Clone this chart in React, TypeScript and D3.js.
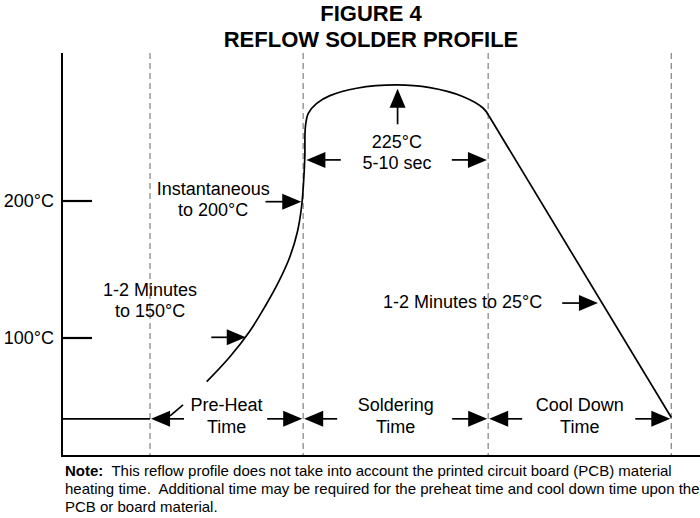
import React from 'react';
import * as d3 from 'd3';

const W = 700;
const H = 518;

// ---------- data ----------
const titleLines = ['FIGURE 4', 'REFLOW SOLDER PROFILE'];
const tempTicks = [200, 100];
const tickLabels = ['200°C', '100°C'];
const timeExtent = [0, 100];
const tempExtent = [13.9, 308];
const phaseBounds = [13.8, 37.8, 66.8, 95.5];
const phaseNames = [
  ['Pre-Heat', 'Time'],
  ['Soldering', 'Time'],
  ['Cool Down', 'Time'],
];
const ambientTime = [0, 13.8];
const ambientTemp = [41, 41];
const heatTime = [22.68, 26.32, 29.37, 31.8, 33.97, 35.72, 36.9, 37.55, 37.87, 38.06, 38.15, 38.6, 39.92, 42.0, 46.19, 52.46, 57.68, 62.9, 66.03, 66.93];
const heatTemp = [68.1, 86.35, 104.6, 122.8, 141.1, 159.3, 177.6, 195.8, 214.1, 232.3, 254.2, 264.0, 271.3, 276.9, 282.3, 284.7, 282.7, 276.1, 267.7, 262.0];
const coolTime = [66.93, 95.5];
const coolTemp = [262.0, 42];

// annotation arrows: tail -> tip (time, temp)
const arrowFromT = [52.6, 43.7, 61.1, 31.9, 23.4, 78.4];
const arrowFromC = [256, 230, 230, 199.5, 100.5, 125.5];
const arrowToT = [52.6, 38.3, 66.6, 37.5, 28.8, 84.0];
const arrowToC = [282, 230, 230, 199.5, 100.5, 125.5];

// annotation texts
const noteLabels = [
  { lines: ['Instantaneous', 'to 200°C'], t: 23.7, c: 204.4, anchor: 'middle' },
  { lines: ['1-2 Minutes', 'to 150°C'], t: 13.8, c: 130.7, anchor: 'middle' },
  { lines: ['225°C', '5-10 sec'], t: 52.5, c: 238.7, anchor: 'middle' },
  { lines: ['1-2 Minutes to 25°C'], t: 50.3, c: 121.9, anchor: 'start' },
];
const phaseLabelTemp = 46.7;
const phaseArrowTemp = 41;

const noteBold = 'Note:';
const noteLines = [
  '  This reflow profile does not take into account the printed circuit board (PCB) material',
  'heating time.  Additional time may be required for the preheat time and cool down time upon the',
  'PCB or board material.',
];

// ---------- scales ----------
const x = d3.scaleLinear().domain(timeExtent).range([62, 700]);
const y = d3.scaleLinear().domain([100, 200]).range([338, 201]);

const FONT = '"Liberation Sans", Arial, Helvetica, sans-serif';

function Arrow({ x1, y1, x2, y2 }: { x1: number; y1: number; x2: number; y2: number }) {
  const dx = x2 - x1;
  const dy = y2 - y1;
  const len = Math.hypot(dx, dy) || 1;
  const ux = dx / len;
  const uy = dy / len;
  const hl = 19;
  const hw = 8;
  const bx = x2 - ux * hl;
  const by = y2 - uy * hl;
  const pts = [
    [x2, y2],
    [bx - uy * hw, by + ux * hw],
    [bx + uy * hw, by - ux * hw],
  ];
  return (
    <g>
      <line x1={x1} y1={y1} x2={bx + ux * 2} y2={by + uy * 2} stroke="#000" strokeWidth={1.7} />
      <polygon points={pts.map((p) => p.join(',')).join(' ')} fill="#000" />
    </g>
  );
}

export default function App() {
  const heatPath =
    d3
      .line<number>()
      .x((_, i) => x(heatTime[i]))
      .y((_, i) => y(heatTemp[i]))
      .curve(d3.curveCatmullRom.alpha(0.5))(heatTime) || '';
  const coolPath =
    d3
      .line<number>()
      .x((_, i) => x(coolTime[i]))
      .y((_, i) => y(coolTemp[i]))(coolTime) || '';
  const ambientPath =
    d3
      .line<number>()
      .x((_, i) => x(ambientTime[i]))
      .y((_, i) => y(ambientTemp[i]))(ambientTime) || '';

  const yTop = y(tempExtent[1]);
  const yBot = y(tempExtent[0]);
  const x0 = x(timeExtent[0]);

  // bottom phase arrows
  const ay = y(phaseArrowTemp);
  const phaseArrows: { x1: number; x2: number }[] = [];
  for (let i = 0; i < phaseBounds.length - 1; i++) {
    const a = x(phaseBounds[i]);
    const b = x(phaseBounds[i + 1]);
    phaseArrows.push({ x1: a + 34, x2: a + 1 });
    phaseArrows.push({ x1: b - 36, x2: b - 1 });
  }

  return (
    <svg
      width={W}
      height={H}
      style={{ position: 'absolute', left: 0, top: 0, background: '#fff' }}
      fontFamily={FONT}
    >
      <rect width={W} height={H} fill="#fff" />
      {/* title */}
      {titleLines.map((t, i) => (
        <text key={t} x={371} y={21 + i * 25.5} textAnchor="middle" fontSize={22} fontWeight="bold" fill="#000">
          {t}
        </text>
      ))}

      {/* dashed phase boundaries */}
      {phaseBounds.map((b) => (
        <line
          key={b}
          x1={x(b)}
          x2={x(b)}
          y1={yTop}
          y2={yBot}
          stroke="#8a8a8a"
          strokeWidth={1.3}
          strokeDasharray="6 4"
        />
      ))}

      {/* axes */}
      <line x1={x0} x2={x0} y1={yTop} y2={yBot + 1} stroke="#000" strokeWidth={2} />
      <line x1={x0 - 1} x2={W} y1={yBot} y2={yBot} stroke="#000" strokeWidth={2} />
      {tempTicks.map((t, i) => (
        <g key={t}>
          <line x1={x0} x2={x0 + 30} y1={y(t)} y2={y(t)} stroke="#000" strokeWidth={2.2} />
          <text x={x0 - 8} y={y(t)} dy="0.36em" textAnchor="end" fontSize={18} fill="#000">
            {tickLabels[i]}
          </text>
        </g>
      ))}

      {/* profile */}
      <path d={ambientPath} fill="none" stroke="#000" strokeWidth={1.7} />
      <path d={heatPath} fill="none" stroke="#000" strokeWidth={1.7} strokeLinejoin="round" />
      <path d={coolPath} fill="none" stroke="#000" strokeWidth={1.7} />

      {/* annotation arrows */}
      {arrowFromT.map((t, i) => (
        <Arrow key={i} x1={x(t)} y1={y(arrowFromC[i])} x2={x(arrowToT[i])} y2={y(arrowToC[i])} />
      ))}

      {/* phase arrows */}
      {phaseArrows.map((a, i) => (
        <Arrow key={'p' + i} x1={a.x1} y1={ay} x2={a.x2} y2={ay} />
      ))}
      {/* pre-heat slanted leader */}
      <line x1={x(phaseBounds[0]) + 20} y1={ay - 3} x2={x(phaseBounds[0]) + 33} y2={ay - 14} stroke="#000" strokeWidth={1.7} />

      {/* annotation text */}
      {noteLabels.map((n, i) => (
        <text key={i} x={x(n.t)} y={y(n.c)} textAnchor={n.anchor} fontSize={18} fill="#000">
          {n.lines.map((l, j) => (
            <tspan key={j} x={x(n.t)} dy={j === 0 ? 0 : 21.5}>
              {l}
            </tspan>
          ))}
        </text>
      ))}

      {/* phase labels */}
      {phaseNames.map((p, i) => {
        const cx = (x(phaseBounds[i]) + x(phaseBounds[i + 1])) / 2;
        return (
          <text key={i} x={cx} y={y(phaseLabelTemp)} textAnchor="middle" fontSize={18} fill="#000">
            {p.map((l, j) => (
              <tspan key={j} x={cx} dy={j === 0 ? 0 : 22}>
                {l}
              </tspan>
            ))}
          </text>
        );
      })}

      {/* footnote */}
      <text x={65} y={476} fontSize={15} fill="#000" style={{ whiteSpace: 'pre' }}>
        <tspan fontWeight="bold">{noteBold}</tspan>
        <tspan>{noteLines[0]}</tspan>
      </text>
      <text x={65} y={494} fontSize={15} fill="#000" style={{ whiteSpace: 'pre' }}>
        {noteLines[1]}
      </text>
      <text x={65} y={512} fontSize={15} fill="#000" style={{ whiteSpace: 'pre' }}>
        {noteLines[2]}
      </text>
    </svg>
  );
}
